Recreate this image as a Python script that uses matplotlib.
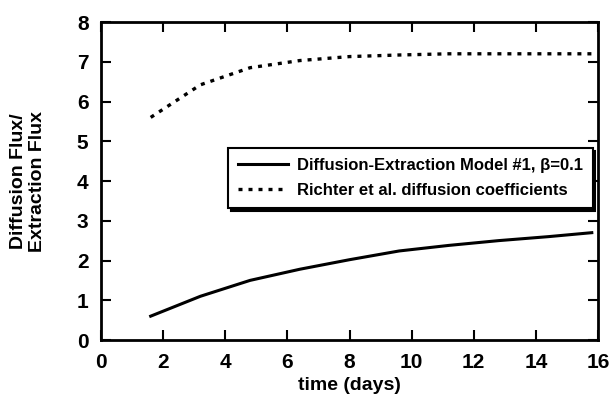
import matplotlib.pyplot as plt

plt.rcParams['font.family'] = ['Liberation Sans', 'DejaVu Sans']
plt.rcParams['font.weight'] = 'bold'

days = [1.6, 3.2, 4.8, 6.4, 8.0, 9.6, 11.2, 12.8, 14.4, 15.8]
model_flux = [0.6, 1.1, 1.5, 1.78, 2.02, 2.24, 2.38, 2.5, 2.6, 2.7]
richter_flux = [5.6, 6.42, 6.85, 7.03, 7.13, 7.17, 7.2, 7.2, 7.2, 7.2]

fig = plt.figure(figsize=(6.10, 3.95), dpi=100)
ax = fig.add_axes([101 / 610, 55 / 395, 497 / 610, 318 / 395])

ax.plot(days, model_flux, color='black', lw=2.2,
        label='Diffusion-Extraction Model #1, \u03b2=0.1')
ax.plot(days, richter_flux, color='black', lw=2.4, ls=(0, (1.2, 1.8)),
        label='Richter et al. diffusion coefficients')

ax.set_xlim(0, 16)
ax.set_ylim(0, 8)
ax.set_xticks(range(0, 17, 2))
ax.set_yticks(range(0, 9))
ax.tick_params(direction='in', top=True, right=True, length=7, width=1.5,
               labelsize=15, pad=9)
for s in ax.spines.values():
    s.set_linewidth(2)

ax.set_xlabel('time (days)', fontsize=14, fontweight='bold', labelpad=4)
ax.set_ylabel('Diffusion Flux/\nExtraction Flux', fontsize=14,
              fontweight='bold', labelpad=22)

leg = ax.legend(loc='upper left', bbox_to_anchor=(0.256, 0.604), fontsize=12,
                frameon=True, fancybox=False, shadow={'color': 'black', 'alpha': 1},
                edgecolor='black', framealpha=1, handlelength=3.0,
                borderpad=0.6, labelspacing=0.6, borderaxespad=0,
                handletextpad=0.5)
leg.get_frame().set_linewidth(1.5)

fig.savefig('out.png', dpi=100)
